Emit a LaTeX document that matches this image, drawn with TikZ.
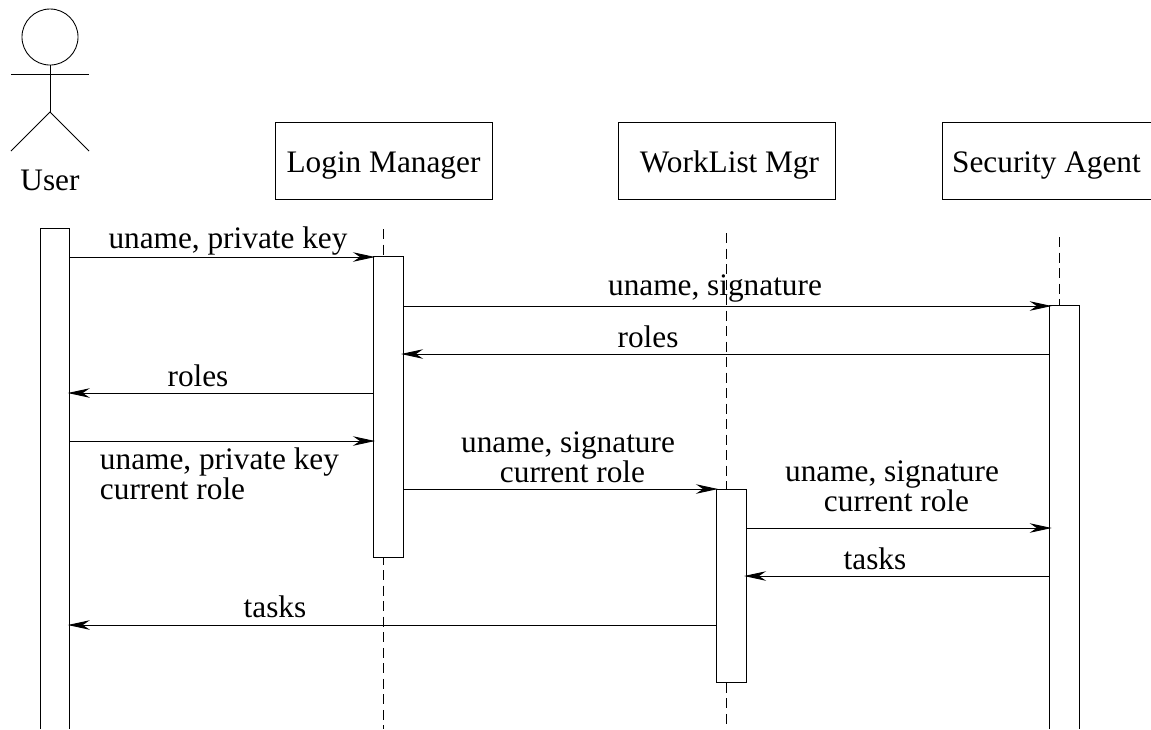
\documentclass[tikz,border=0pt]{standalone}
\usepackage{fontspec}
\setmainfont{Liberation Serif}
\usetikzlibrary{arrows.meta}
\tikzset{
  every node/.style={font=\fontsize{8.9}{8.5}\selectfont, inner sep=0pt, outer sep=0pt},
  objbox/.style={draw, minimum height=0.77cm, text height=0.32cm, text depth=0.09cm},
  actbox/.style={draw, fill=white, minimum width=0.30cm},
  openbox/.style={minimum width=0.295cm},
  msg/.style={-{Stealth[length=0.22cm,width=0.095cm,inset=0.07cm]}, shorten >=-0.02cm},
  lifeline/.style={dash pattern=on 0.10cm off 0.055cm}
}
\begin{document}
\begin{tikzpicture}[x=0.01cm, y=-0.01cm, line width=0.25pt]
  \useasboundingbox (0,0) rectangle (1151,729);
  % actor
  \node[circle, draw, minimum size=0.56cm] (head) at (50,37) {};
  \coordinate (hip) at (50,112);
  \coordinate (armL) at (11,74);
  \coordinate (armR) at (89,74);
  \coordinate (footL) at (11,151);
  \coordinate (footR) at (89,151);
  \draw (head.south) -- (hip);
  \draw (armL) -- (armR);
  \draw (footL) -- (hip) -- (footR);
  \node (usertext) at (50,180) {User};
  % objects
  \node[objbox, minimum width=2.17cm] (loginbox) at (383.5,160.5) {Login Manager};
  \node[objbox, minimum width=2.17cm] (worklistbox) at (726.5,160.5) {\kern0.06cm WorkList Mgr};
  \node[objbox, minimum width=2.09cm] (securitybox) at (1046.5,160.5) {Security Agent};
  % lifelines
  \coordinate (lifeA) at (383,229);
  \coordinate (lifeB) at (383,729);
  \coordinate (lifeC) at (726,233);
  \coordinate (lifeD) at (726,729);
  \coordinate (lifeE) at (1059,237);
  \coordinate (lifeF) at (1059,306);
  \draw[lifeline] (lifeA) -- (lifeB);
  \draw[lifeline] (lifeC) -- (lifeD);
  \draw[lifeline] (lifeE) -- (lifeF);
  % activations
  \node[openbox, minimum height=5cm] (useract) at (55,479) {};
  \draw (useract.south west) -- (useract.north west) -- (useract.north east) -- (useract.south east);
  \node[actbox, minimum height=3cm] (loginact) at (388,407) {};
  \node[actbox, minimum height=1.93cm] (worklistact) at (731,585.5) {};
  \node[openbox, minimum height=4.23cm] (securityact) at (1064.5,517.5) {};
  \draw (securityact.south west) -- (securityact.north west) -- (securityact.north east) -- (securityact.south east);
  % message levels
  \coordinate (m1) at (0,257);
  \coordinate (m2) at (0,306);
  \coordinate (m3) at (0,354);
  \coordinate (m4) at (0,393);
  \coordinate (m5) at (0,441);
  \coordinate (m6) at (0,489);
  \coordinate (m7) at (0,528);
  \coordinate (m8) at (0,576);
  \coordinate (m9) at (0,625);
  % messages
  \draw[msg] (useract.east |- m1) -- (loginact.west |- m1);
  \draw[msg] (loginact.east |- m2) -- (securityact.west |- m2);
  \draw[msg] (securityact.west |- m3) -- (loginact.east |- m3);
  \draw[msg] (loginact.west |- m4) -- (useract.east |- m4);
  \draw[msg] (useract.east |- m5) -- (loginact.west |- m5);
  \draw[msg] (loginact.east |- m6) -- (worklistact.west |- m6);
  \draw[msg] (worklistact.east |- m7) -- (securityact.west |- m7);
  \draw[msg] (securityact.west |- m8) -- (worklistact.east |- m8);
  \draw[msg] (worklistact.west |- m9) -- (useract.east |- m9);
  % labels
  \node (text1) at (228,241) {uname, private key};
  \node (text2) at (715,289) {uname, signature};
  \node (text3) at (648,337) {roles};
  \node (text4) at (198,376) {roles};
  \node[align=left, anchor=north west] (text5) at (100,448) {uname, private key\\current role};
  \node[align=center] (text6) at (568,457) {uname, signature\\\hspace*{0.09cm}current role};
  \node[align=center] (text7) at (892,486) {uname, signature\\\hspace*{0.09cm}current role};
  \node (text8) at (875,559) {tasks};
  \node (text9) at (275,607) {tasks};
\end{tikzpicture}
\end{document}
